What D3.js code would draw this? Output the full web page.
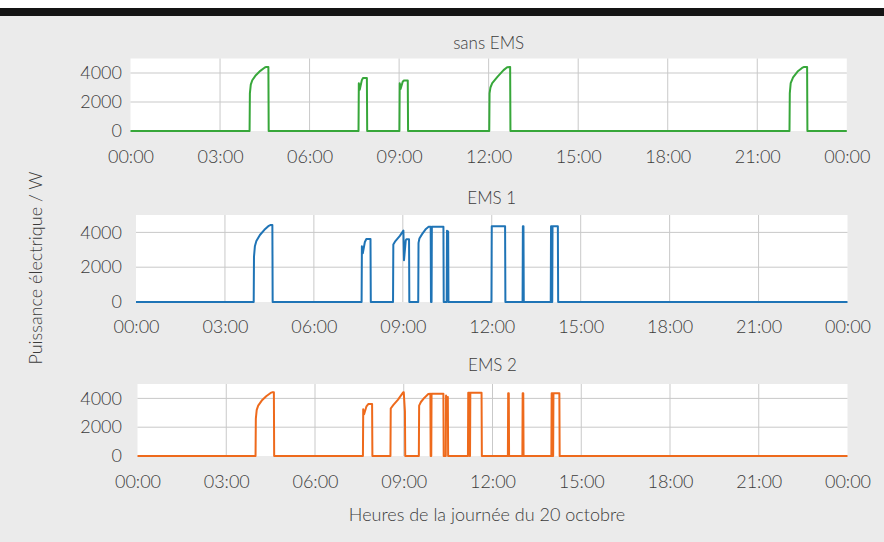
<!DOCTYPE html>
<html>
<head>
<meta charset="utf-8">
<script src="https://cdn.jsdelivr.net/npm/d3@7"></script>
<style>
  html, body { margin: 0; padding: 0; background: #ffffff; }
  svg { display: block; }
  text { font-family: Lato, "Open Sans", sans-serif; font-weight: 300; fill: #3c3c3c; }
</style>
</head>
<body>
<svg id="chart" width="884" height="542"></svg>
<script>
// ---- data (hours of day, watts) ----
const panelTitles = ["sans EMS", "EMS 1", "EMS 2"];
const xTickHours = [0, 3, 6, 9, 12, 15, 18, 21, 24];
const xTickLabels = ["00:00", "03:00", "06:00", "09:00", "12:00", "15:00", "18:00", "21:00", "00:00"];
const yTicks = [0, 2000, 4000];

const sansEMS = [
  [0,0],[3.99,0],[4.0,2600],[4.03,3200],[4.08,3500],[4.2,3850],[4.35,4150],[4.5,4380],[4.55,4420],[4.62,4420],[4.63,0],
  [7.64,0],[7.65,3300],[7.68,2850],[7.75,3500],[7.79,3650],[7.92,3650],[7.93,0],
  [9.01,0],[9.02,3300],[9.05,2900],[9.12,3400],[9.16,3480],[9.29,3480],[9.3,0],
  [12.02,0],[12.03,2600],[12.06,3000],[12.12,3300],[12.3,3750],[12.5,4200],[12.62,4400],[12.72,4420],[12.73,0],
  [22.08,0],[22.09,2600],[22.12,3300],[22.2,3700],[22.35,4100],[22.5,4350],[22.57,4420],[22.67,4420],[22.68,0],
  [24,0]
];
const ems1 = [
  [0,0],[3.97,0],[3.98,2600],[4.01,3200],[4.06,3500],[4.18,3850],[4.33,4150],[4.48,4380],[4.53,4420],[4.6,4420],[4.61,0],
  [7.61,0],[7.62,3200],[7.65,2800],[7.72,3450],[7.77,3620],[7.91,3620],[7.92,0],
  [8.67,0],[8.68,3300],[8.75,3500],[8.9,3800],[9.02,4100],[9.04,2400],[9.1,3550],[9.12,3600],[9.21,3600],[9.22,0],
  [9.52,0],[9.53,3400],[9.56,3650],[9.65,3900],[9.78,4200],[9.87,4320],[9.94,4320],[9.95,0],[9.97,0],[9.98,4320],[10.37,4320],[10.38,0],
  [10.48,0],[10.49,4100],[10.51,3900],[10.53,4050],[10.54,0],
  [11.99,0],[12.0,4350],[12.45,4350],[12.46,0],
  [13.04,0],[13.05,4350],[13.07,4350],[13.08,0],
  [13.99,0],[14.0,4350],[14.02,4350],[14.03,0],[14.04,0],[14.05,4350],[14.23,4350],[14.24,0],
  [24,0]
];
const ems2 = [
  [0,0],[3.99,0],[4.0,2600],[4.03,3200],[4.08,3500],[4.2,3850],[4.35,4150],[4.5,4380],[4.55,4420],[4.61,4420],[4.62,0],
  [7.62,0],[7.63,3240],[7.66,2900],[7.74,3450],[7.8,3610],[7.93,3610],[7.94,0],
  [8.55,0],[8.56,3300],[8.65,3550],[8.8,3900],[8.98,4420],[9.0,4420],[9.04,3100],[9.05,0],
  [9.51,0],[9.52,3500],[9.58,3750],[9.7,4050],[9.83,4300],[9.9,4320],[9.91,0],[9.93,0],[9.94,4320],[10.34,4320],[10.35,0],
  [10.42,0],[10.43,4200],[10.46,3900],[10.49,4100],[10.5,0],
  [11.17,0],[11.18,4400],[11.22,4400],[11.23,0],[11.24,0],[11.25,4400],[11.63,4400],[11.64,0],
  [12.52,0],[12.53,4350],[12.55,4350],[12.56,0],
  [13.01,0],[13.02,4350],[13.04,4350],[13.05,0],
  [13.99,0],[14.0,4350],[14.03,4350],[14.04,0],[14.05,0],[14.06,4350],[14.26,4350],[14.27,0],
  [24,0]
];
const seriesList = [sansEMS, ems1, ems2];
const seriesColors = ["#37a73a", "#1f74b6", "#ee6a1c"];

// ---- layout ----
const svg = d3.select("#chart");
svg.append("rect").attr("x", 0).attr("y", 0).attr("width", 884).attr("height", 542).attr("fill", "#ebebeb");
svg.append("rect").attr("x", 0).attr("y", 0).attr("width", 884).attr("height", 8).attr("fill", "#ffffff");
svg.append("rect").attr("x", 0).attr("y", 8).attr("width", 884).attr("height", 8).attr("fill", "#141414");

const panels = [
  { left: 130.5, right: 846.8, top: 58.5, bottom: 131, titleY: 49, xPad: 19 },
  { left: 136,   right: 847.5, top: 215,  bottom: 302, titleY: 204, xPad: 18 },
  { left: 137.5, right: 847.5, top: 384,  bottom: 456, titleY: 371, xPad: 19 }
];
const yLabelRight = 122;

panels.forEach((p, i) => {
  const x = d3.scaleLinear().domain([0, 24]).range([p.left, p.right]);
  const y = d3.scaleLinear().domain([0, 5000]).range([p.bottom, p.top]);
  const g = svg.append("g");

  g.append("rect").attr("x", p.left).attr("y", p.top)
    .attr("width", p.right - p.left).attr("height", p.bottom - p.top)
    .attr("fill", "#ffffff");

  // grid
  g.selectAll(".vg").data(xTickHours.slice(1, -1)).join("line")
    .attr("x1", d => x(d)).attr("x2", d => x(d))
    .attr("y1", p.top).attr("y2", p.bottom)
    .attr("stroke", "#c9c9c9").attr("stroke-width", 1);
  g.selectAll(".hg").data(yTicks.slice(1)).join("line")
    .attr("x1", p.left).attr("x2", p.right)
    .attr("y1", d => y(d)).attr("y2", d => y(d))
    .attr("stroke", "#c9c9c9").attr("stroke-width", 1);

  // axes (labels only)
  const xAxis = d3.axisBottom(x).tickValues(xTickHours)
    .tickFormat((d, k) => xTickLabels[k]).tickSize(0).tickPadding(p.xPad);
  const xg = g.append("g").attr("transform", `translate(0,${p.bottom})`).call(xAxis);
  xg.select(".domain").remove();
  xg.selectAll("text").style("font-size", "18px").style("font-family", "Lato, sans-serif")
    .style("font-weight", 300).attr("fill", "#3c3c3c").attr("dy", "0.71em");

  const yAxis = d3.axisLeft(y).tickValues(yTicks).tickFormat(d3.format("d"))
    .tickSize(0).tickPadding(p.left - yLabelRight);
  const yg = g.append("g").attr("transform", `translate(${p.left},0)`).call(yAxis);
  yg.select(".domain").remove();
  yg.selectAll("text").style("font-size", "18px").style("font-family", "Lato, sans-serif")
    .style("font-weight", 300).attr("fill", "#3c3c3c");

  // title
  g.append("text").attr("x", (p.left + p.right) / 2).attr("y", p.titleY)
    .attr("text-anchor", "middle").style("font-size", "17px").text(panelTitles[i]);

  // series line
  const line = d3.line().x(d => x(d[0])).y(d => y(d[1]));
  g.append("path").datum(seriesList[i]).attr("d", line)
    .attr("fill", "none").attr("stroke", seriesColors[i])
    .attr("stroke-width", 2).attr("stroke-linejoin", "round");
});

// axis titles
svg.append("text").attr("x", 487).attr("y", 521).attr("text-anchor", "middle")
  .style("font-size", "18px").text("Heures de la journée du 20 octobre");
svg.append("text").attr("transform", "translate(42,268) rotate(-90)")
  .attr("text-anchor", "middle").style("font-size", "18px").text("Puissance électrique / W");
</script>
</body>
</html>
